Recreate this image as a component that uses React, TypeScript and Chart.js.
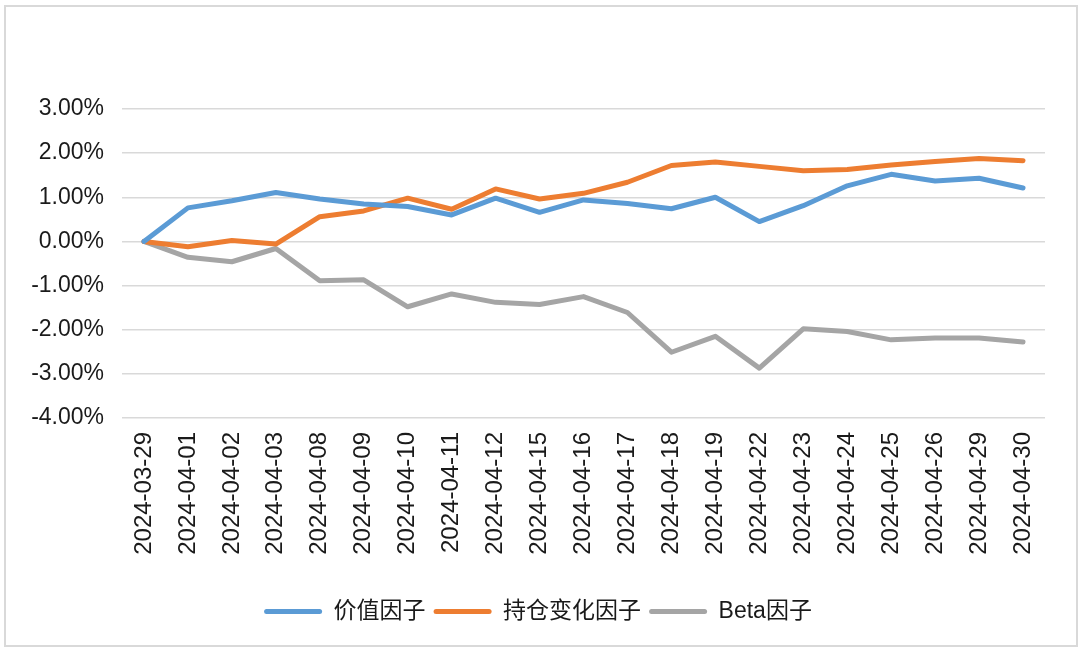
import React, { useEffect, useRef } from "react";
import { Chart, registerables } from "chart.js";

Chart.register(...registerables);

const categories = [
  "2024-03-29", "2024-04-01", "2024-04-02", "2024-04-03", "2024-04-08",
  "2024-04-09", "2024-04-10", "2024-04-11", "2024-04-12", "2024-04-15",
  "2024-04-16", "2024-04-17", "2024-04-18", "2024-04-19", "2024-04-22",
  "2024-04-23", "2024-04-24", "2024-04-25", "2024-04-26", "2024-04-29",
  "2024-04-30",
];

const valueFactor = [
  0, 0.76, 0.92, 1.11, 0.96, 0.85, 0.79, 0.6, 0.98, 0.66, 0.94,
  0.86, 0.74, 1.0, 0.45, 0.81, 1.26, 1.52, 1.37, 1.43, 1.21,
];

const holdingChangeFactor = [
  0, -0.12, 0.02, -0.06, 0.56, 0.69, 0.98, 0.73, 1.19, 0.96, 1.09,
  1.34, 1.72, 1.8, 1.7, 1.6, 1.63, 1.73, 1.81, 1.88, 1.83,
];

const betaFactor = [
  0, -0.36, -0.46, -0.16, -0.89, -0.87, -1.48, -1.19, -1.38, -1.43, -1.25,
  -1.61, -2.51, -2.15, -2.87, -1.98, -2.04, -2.23, -2.19, -2.19, -2.28,
];

const seriesNames = ["价值因子", "持仓变化因子", "Beta因子"];
const seriesColors = ["#5B9BD5", "#ED7D31", "#A5A5A5"];

const yMin = -4;
const yMax = 3;
const yStep = 1;

const FONT = '"Liberation Sans", Arial, "Noto Sans CJK SC", sans-serif';

export default function App() {
  const canvasRef = useRef<HTMLCanvasElement | null>(null);

  useEffect(() => {
    const canvas = canvasRef.current;
    if (!canvas) return;
    const seriesData = [valueFactor, holdingChangeFactor, betaFactor];
    const chart = new Chart(canvas, {
      type: "line",
      data: {
        labels: categories,
        datasets: seriesData.map((d, i) => ({
          label: seriesNames[i],
          data: d,
          borderColor: seriesColors[i],
          backgroundColor: seriesColors[i],
          borderWidth: 5,
          pointRadius: 0,
          pointHoverRadius: 0,
          tension: 0,
          borderJoinStyle: "round" as const,
          borderCapStyle: "round" as const,
          fill: false,
        })),
      },
      options: {
        responsive: false,
        animation: false,
        layout: { padding: { top: 109, right: 35, bottom: 18, left: 31 } },
        plugins: {
          tooltip: { enabled: false },
          legend: {
            position: "bottom",
            labels: {
              color: "#1a1a1a",
              font: { family: FONT, size: 23 },
              boxWidth: 58,
              boxHeight: 5,
              padding: 8,
              generateLabels: (ch: any) =>
                ch.data.datasets.map((ds: any, i: number) => ({
                  text: ds.label,
                  fillStyle: seriesColors[i],
                  strokeStyle: seriesColors[i],
                  lineWidth: 0,
                  borderRadius: 2.5,
                  hidden: false,
                  datasetIndex: i,
                  fontColor: "#1a1a1a",
                })),
            },
          },
        },
        scales: {
          x: {
            offset: true,
            grid: { display: false, drawTicks: false },
            border: { display: false },
            ticks: {
              autoSkip: false,
              minRotation: 90,
              maxRotation: 90,
              padding: 14,
              color: "#1a1a1a",
              font: { family: FONT, size: 24 },
            },
            afterFit: (scale: any) => {
              scale.height = 174;
            },
          },
          y: {
            min: yMin,
            max: yMax,
            grid: { color: "#d9d9d9", lineWidth: 1.5, drawTicks: false },
            border: { display: false },
            ticks: {
              stepSize: yStep,
              padding: 18,
              color: "#1a1a1a",
              font: { family: FONT, size: 23 },
              callback: (v: any) => Number(v).toFixed(2) + "%",
            },
            afterFit: (scale: any) => {
              scale.width = 91;
            },
          },
        },
      },
    });
    return () => chart.destroy();
  }, []);

  return (
    <div
      style={{
        position: "absolute",
        left: 0,
        top: 0,
        width: 1080,
        height: 651,
        background: "#ffffff",
      }}
    >
      <div
        style={{
          position: "absolute",
          left: 4,
          top: 5,
          width: 1070,
          height: 638,
          border: "2px solid #d9d9d9",
        }}
      />
      <canvas
        ref={canvasRef}
        width={1080}
        height={651}
        style={{ position: "absolute", left: 0, top: 0, width: 1080, height: 651 }}
      />
    </div>
  );
}
